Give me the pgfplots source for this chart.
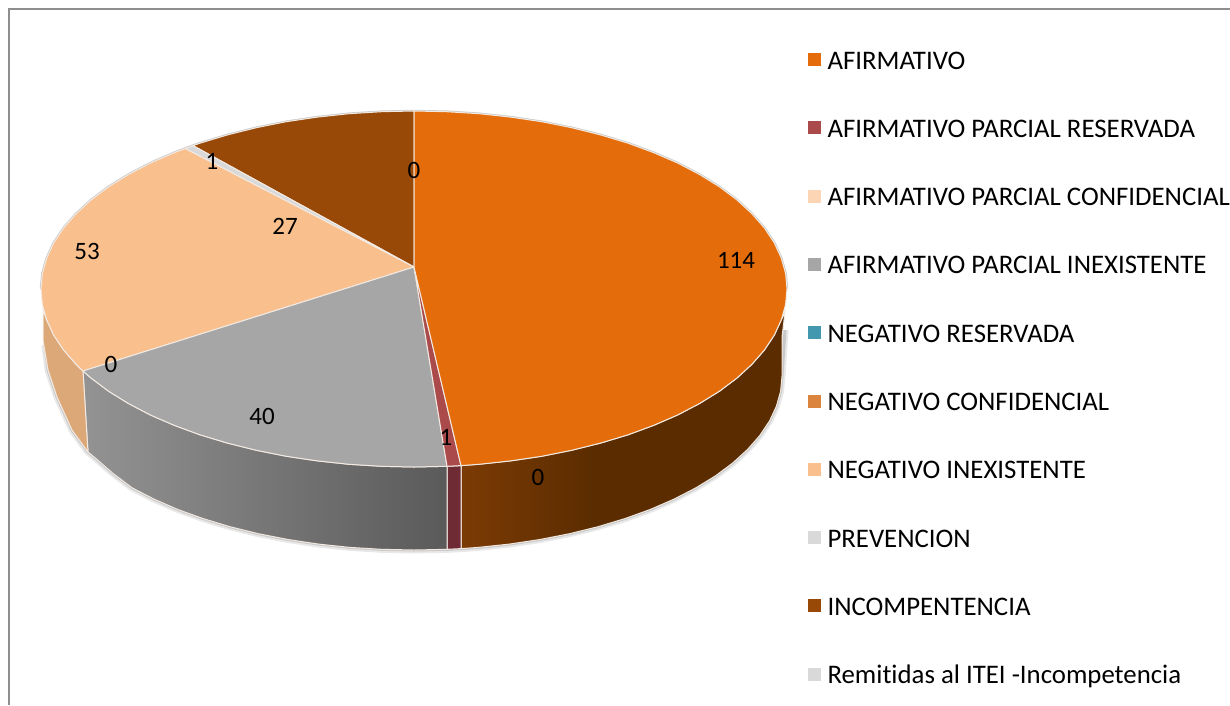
\documentclass[border=0pt]{standalone}
\usepackage{fontspec}
\setmainfont[Ligatures=NoCommon]{Carlito}
\usepackage{pgfplots}
\pgfplotsset{compat=1.18}
\definecolor{cOr}{HTML}{E46C0A}
\definecolor{cRed}{HTML}{AA4A4B}
\definecolor{cPeach}{HTML}{FCD5B5}
\definecolor{cGray}{HTML}{A6A6A6}
\definecolor{cBlue}{HTML}{4198AF}
\definecolor{cOr2}{HTML}{DB843D}
\definecolor{cLt}{HTML}{F9BF8D}
\definecolor{cPale}{HTML}{D9D9D9}
\definecolor{cBr}{HTML}{984807}
\definecolor{cEdge}{HTML}{F2EAE2}
\definecolor{cFrame}{HTML}{8E8E8E}
\definecolor{orA}{HTML}{7C3B05}
\definecolor{orB}{HTML}{5A2C00}
\definecolor{grA}{HTML}{939393}
\definecolor{grB}{HTML}{5A5A5A}
\definecolor{cRedW}{HTML}{6E2B34}
\definecolor{cLtW}{HTML}{DDA878}
\pgfdeclarehorizontalshading{orwall}{100bp}{color(0bp)=(orA); color(25bp)=(orA); color(46bp)=(orB); color(100bp)=(orB)}
\pgfplotstableread{
x y v
736 260 114
446 437 1
538 477 0
262 416 40
111 364 0
87 251 53
212 161 1
285 226 27
414 170 0
}\labels
\begin{document}
\begin{tikzpicture}[x=1pt,y=1pt]
\path[clip,use as bounding box] (0,0) rectangle (1230pt,705pt);
\begin{axis}[
  at={(0,0)},anchor=south west,
  scale only axis,width=1230pt,height=705pt,
  xmin=0,xmax=1230,ymin=0,ymax=705,y dir=reverse,
  hide axis,clip=false,no marks,
  legend cell align=left,
  legend image code/.code={\path[draw=none,fill,#1] (0pt,-2pt) rectangle (13pt,11pt);},
  legend style={at={(axis cs:808,53)},anchor=north west,draw=none,fill=none,
    font=\fontsize{26.8}{29}\selectfont,row sep=47.3pt,inner sep=0pt,outer sep=0pt,
    nodes={inner sep=0pt,outer sep=0pt,text height=15pt,text depth=5pt},
    /tikz/column sep=6.5pt},
]
\addlegendimage{fill=cOr}\addlegendentry{AFIRMATIVO}
\addlegendimage{fill=cRed}\addlegendentry{AFIRMATIVO PARCIAL RESERVADA}
\addlegendimage{fill=cPeach}\addlegendentry{AFIRMATIVO PARCIAL CONFIDENCIAL}
\addlegendimage{fill=cGray}\addlegendentry{AFIRMATIVO PARCIAL INEXISTENTE}
\addlegendimage{fill=cBlue}\addlegendentry{NEGATIVO RESERVADA}
\addlegendimage{fill=cOr2}\addlegendentry{NEGATIVO CONFIDENCIAL}
\addlegendimage{fill=cLt}\addlegendentry{NEGATIVO INEXISTENTE}
\addlegendimage{fill=cPale}\addlegendentry{PREVENCION}
\addlegendimage{fill=cBr}\addlegendentry{INCOMPENTENCIA}
\addlegendimage{fill=cPale}\addlegendentry{Remitidas al ITEI -Incompetencia}

% frame
\addplot[forget plot,draw=cFrame,line width=2pt] coordinates {(8.5,705)(8.5,8.5)(1230,8.5)};

% soft shadow
\addplot[forget plot,draw=gray,line width=7pt,opacity=.18,line join=round] coordinates {
(785,330)(782,376)(780.6,391.2)(776.4,406.2)(769.5,421)(759.8,435.5)(747.5,449.5)(732.7,463)(715.5,475.8)(695.9,487.8)(674.2,499)(650.6,509.3)(625.1,518.5)(598,526.7)(569.5,533.7)(539.9,539.5)(509.2,544.1)(477.9,547.4)(461,548.6)(447,549.3)(414,550)(381.9,549.3)(350.1,547.4)(318.8,544.1)(288.1,539.5)(258.5,533.7)(230,526.7)(202.9,518.5)(177.4,509.3)(153.8,499)(132.1,487.8)(112.5,473)(95.3,458)(88,452)(72,430)(57,397)(48,370)(45,345)};
\addplot[forget plot,draw=gray,line width=3pt,opacity=.3,line join=round] coordinates {
(785,330)(782,376)(780.6,391.2)(776.4,406.2)(769.5,421)(759.8,435.5)(747.5,449.5)(732.7,463)(715.5,475.8)(695.9,487.8)(674.2,499)(650.6,509.3)(625.1,518.5)(598,526.7)(569.5,533.7)(539.9,539.5)(509.2,544.1)(477.9,547.4)(461,548.6)(447,549.3)(414,550)(381.9,549.3)(350.1,547.4)(318.8,544.1)(288.1,539.5)(258.5,533.7)(230,526.7)(202.9,518.5)(177.4,509.3)(153.8,499)(132.1,487.8)(112.5,473)(95.3,458)(88,452)(72,430)(57,397)(48,370)(45,345)};
% rim of the upper half
\addplot[forget plot,draw=gray!70,line width=2.5pt,opacity=.6] coordinates {
(41,289)(42.4,273.5)(46.7,258.1)(53.7,242.9)(63.5,228.1)(76,213.8)(91,200)(108.4,186.9)(128.3,174.6)(150.2,163.1)(174.2,152.7)(185,148.5)(193,145.6)(200,143.2)(227.5,134.9)(256.4,127.7)(286.4,121.7)(317.5,117.1)(349.2,113.7)(381.5,111.7)(414,111)(446.5,111.7)(478.8,113.7)(510.5,117.1)(541.6,121.7)(571.6,127.7)(600.5,134.9)(628,143.2)(653.8,152.7)(677.8,163.1)(699.7,174.6)(719.6,186.9)(737,200)(752,213.8)(764.5,228.1)(774.3,242.9)(781.3,258.1)(785.6,273.5)(787,289)};

% walls
\addplot[forget plot,shading=orwall,draw=cEdge,line width=1pt] coordinates {
(461,465.6)(478.8,464.3)(510.5,460.9)(541.6,456.3)(571.6,450.3)(600.5,443.1)(628,434.8)(653.8,425.3)(677.8,414.9)(699.7,403.4)(719.6,391.1)(737,378)(752,364.2)(764.5,349.9)(774.3,335.1)(781.3,319.9)(785,312)
(782,337)(782,376)(780.6,391.2)(776.4,406.2)(769.5,421)(759.8,435.5)(747.5,449.5)(732.7,463)(715.5,475.8)(695.9,487.8)(674.2,499)(650.6,509.3)(625.1,518.5)(598,526.7)(569.5,533.7)(539.9,539.5)(509.2,544.1)(477.9,547.4)(461,548.6)} -- cycle;
\addplot[forget plot,fill=cRedW,draw=cEdge,line width=1pt] coordinates {(461,465.6)(447,466.3)(447,549.3)(461,548.6)} -- cycle;
\addplot[forget plot,left color=grA,right color=grB,draw=cEdge,line width=1pt] coordinates {
(447,466.3)(414,467)(381.5,466.3)(349.2,464.3)(317.5,460.9)(286.4,456.3)(256.4,450.3)(227.5,443.1)(200,434.8)(174.2,425.3)(150.2,414.9)(128.3,403.4)(108.4,391.1)(91,378)(83,371)
(88,452)(95.3,458)(112.5,473)(132.1,487.8)(153.8,499)(177.4,509.3)(202.9,518.5)(230,526.7)(258.5,533.7)(288.1,539.5)(318.8,544.1)(350.1,547.4)(381.9,549.3)(414,550)(447,549.3)} -- cycle;
\addplot[forget plot,fill=cLtW,draw=cEdge,line width=1pt] coordinates {
(83,371)(76,364.2)(63.5,349.9)(53.7,335.1)(46.7,319.9)(43,310)(43,340)(48,370)(57,397)(72,430)(88,452)} -- cycle;

% top faces
\addplot[forget plot,fill=cBr,draw=cEdge,line width=1pt] coordinates {
(414,267)(193,145.6)(200,143.2)(227.5,134.9)(256.4,127.7)(286.4,121.7)(317.5,117.1)(349.2,113.7)(381.5,111.7)(414,111)} -- cycle;
\addplot[forget plot,fill=cPale,draw=cEdge,line width=1pt] coordinates {(414,267)(185,148.5)(193,145.6)} -- cycle;
\addplot[forget plot,fill=cLt,draw=cEdge,line width=1pt] coordinates {
(414,267)(83,371)(76,364.2)(63.5,349.9)(53.7,335.1)(46.7,319.9)(42.4,304.5)(41,289)(42.4,273.5)(46.7,258.1)(53.7,242.9)(63.5,228.1)(76,213.8)(91,200)(108.4,186.9)(128.3,174.6)(150.2,163.1)(174.2,152.7)(185,148.5)} -- cycle;
\addplot[forget plot,fill=cGray,draw=cEdge,line width=1pt] coordinates {
(414,267)(447,466.3)(414,467)(381.5,466.3)(349.2,464.3)(317.5,460.9)(286.4,456.3)(256.4,450.3)(227.5,443.1)(200,434.8)(174.2,425.3)(150.2,414.9)(128.3,403.4)(108.4,391.1)(91,378)(83,371)} -- cycle;
\addplot[forget plot,fill=cRed,draw=cEdge,line width=1pt] coordinates {(414,267)(461,465.6)(447,466.3)} -- cycle;
\addplot[forget plot,fill=cOr,draw=cEdge,line width=1pt] coordinates {
(414,267)(414,111)(446.5,111.7)(478.8,113.7)(510.5,117.1)(541.6,121.7)(571.6,127.7)(600.5,134.9)(628,143.2)(653.8,152.7)(677.8,163.1)(699.7,174.6)(719.6,186.9)(737,200)(752,213.8)(764.5,228.1)(774.3,242.9)(781.3,258.1)(785.6,273.5)(787,289)(785.6,304.5)(781.3,319.9)(774.3,335.1)(764.5,349.9)(752,364.2)(737,378)(719.6,391.1)(699.7,403.4)(677.8,414.9)(653.8,425.3)(628,434.8)(600.5,443.1)(571.6,450.3)(541.6,456.3)(510.5,460.9)(478.8,464.3)(461,465.6)} -- cycle;

% value labels
\addplot[forget plot,draw=none,mark=none,nodes near coords,point meta=explicit symbolic,
  every node near coord/.append style={anchor=center,inner sep=0pt,font=\fontsize{25}{27}\selectfont,text=black}]
  table[x=x,y=y,meta=v] {\labels};
\end{axis}
\end{tikzpicture}
\end{document}
